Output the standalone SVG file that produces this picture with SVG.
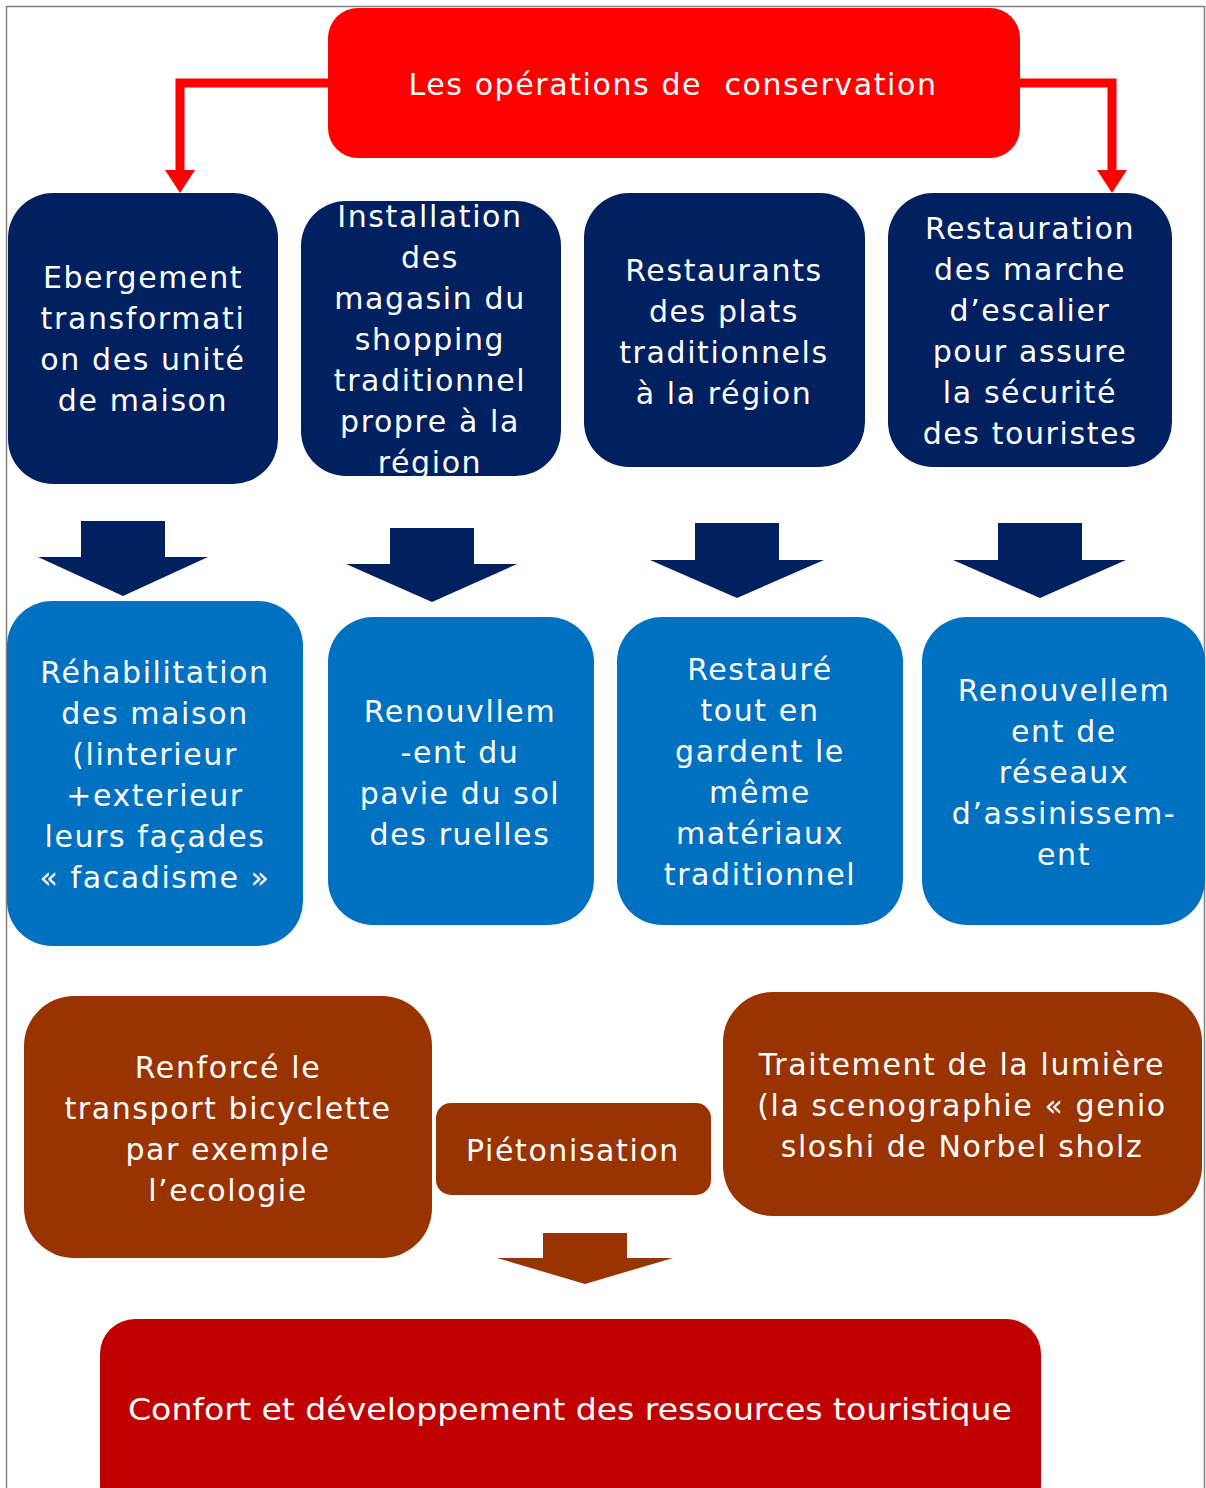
<svg xmlns="http://www.w3.org/2000/svg" width="1206" height="1488" viewBox="0 0 1206 1488">
<style>
text{font-family:"DejaVu Sans","Verdana",sans-serif;font-size:30px;fill:#fff;text-anchor:middle;letter-spacing:1.6px}
.navy{fill:#002060}
.blue{fill:#0070C0}
.brown{fill:#993300}
.red{fill:#FF0000}
.dred{fill:#C00000}
</style>
<rect x="6.5" y="6.5" width="1198" height="1495" fill="#fff" stroke="#808080" stroke-width="1.5"/>
<g id="connectors">
<polyline points="330,83 180,83 180,172" fill="none" stroke="#FF0000" stroke-width="9"/>
<polygon points="165,170 195,170 180,193" fill="#FF0000"/>
<polyline points="1018,83 1112,83 1112,172" fill="none" stroke="#FF0000" stroke-width="9"/>
<polygon points="1097,170 1127,170 1112,193" fill="#FF0000"/>
<polygon class="navy" points="81,521 165,521 165,557 208,557 123,596 38,557 81,557"/>
<polygon class="navy" points="390,528 474,528 474,564 517,564 432,602 346,564 390,564"/>
<polygon class="navy" points="695,523 779,523 779,560 824,560 737,598 650,560 695,560"/>
<polygon class="navy" points="998,523 1082,523 1082,560 1126,560 1040,598 953,560 998,560"/>
<polygon class="brown" points="543,1233 627,1233 627,1258 673,1258 585,1284 497,1258 543,1258"/>
</g>
<g id="top">
<rect class="red" x="328" y="8" width="692" height="150" rx="30"/>
<text x="673" y="95" xml:space="preserve">Les opérations de  conservation</text>
</g>
<g id="n1">
<rect class="navy" x="8" y="193" width="270" height="291" rx="45"/>
<text x="143" y="288">Ebergement</text>
<text x="143" y="329">transformati</text>
<text x="143" y="370">on des unité</text>
<text x="143" y="411">de maison</text>
</g>
<g id="n2">
<rect class="navy" x="301" y="201" width="260" height="275" rx="45"/>
<text x="430" y="227">Installation</text>
<text x="430" y="268">des</text>
<text x="430" y="309">magasin du</text>
<text x="430" y="350">shopping</text>
<text x="430" y="391">traditionnel</text>
<text x="430" y="432">propre à la</text>
<text x="430" y="473">région</text>
</g>
<g id="n3">
<rect class="navy" x="584" y="193" width="281" height="274" rx="45"/>
<text x="724" y="281">Restaurants</text>
<text x="724" y="322">des plats</text>
<text x="724" y="363">traditionnels</text>
<text x="724" y="404">à la région</text>
</g>
<g id="n4">
<rect class="navy" x="888" y="193" width="284" height="274" rx="45"/>
<text x="1030" y="239">Restauration</text>
<text x="1030" y="280">des marche</text>
<text x="1030" y="321">d’escalier</text>
<text x="1030" y="362">pour assure</text>
<text x="1030" y="403">la sécurité</text>
<text x="1030" y="444">des touristes</text>
</g>
<g id="b1">
<rect class="blue" x="7" y="601" width="296" height="345" rx="45"/>
<text x="155" y="683">Réhabilitation</text>
<text x="155" y="724">des maison</text>
<text x="155" y="765">(linterieur</text>
<text x="155" y="806">+exterieur</text>
<text x="155" y="847">leurs façades</text>
<text x="155" y="888">« facadisme »</text>
</g>
<g id="b2">
<rect class="blue" x="328" y="617" width="266" height="308" rx="45"/>
<text x="460" y="722">Renouvllem</text>
<text x="460" y="763">-ent du</text>
<text x="460" y="804">pavie du sol</text>
<text x="460" y="845">des ruelles</text>
</g>
<g id="b3">
<rect class="blue" x="617" y="617" width="286" height="308" rx="45"/>
<text x="760" y="680">Restauré</text>
<text x="760" y="721">tout en</text>
<text x="760" y="762">gardent le</text>
<text x="760" y="803">même</text>
<text x="760" y="844">matériaux</text>
<text x="760" y="885">traditionnel</text>
</g>
<g id="b4">
<rect class="blue" x="922" y="617" width="283" height="308" rx="45"/>
<text x="1064" y="701">Renouvellem</text>
<text x="1064" y="742">ent de</text>
<text x="1064" y="783">réseaux</text>
<text x="1064" y="824">d’assinissem-</text>
<text x="1064" y="865">ent</text>
</g>
<g id="c1">
<rect class="brown" x="24" y="996" width="408" height="262" rx="50"/>
<text x="228" y="1078">Renforcé le</text>
<text x="228" y="1119">transport bicyclette</text>
<text x="228" y="1160">par exemple</text>
<text x="228" y="1201">l’ecologie</text>
</g>
<g id="c2">
<rect class="brown" x="436" y="1103" width="275" height="92" rx="15"/>
<text x="573" y="1161">Piétonisation</text>
</g>
<g id="c3">
<rect class="brown" x="723" y="992" width="479" height="224" rx="50"/>
<text x="962" y="1075">Traitement de la lumière</text>
<text x="962" y="1116">(la scenographie « genio</text>
<text x="962" y="1157">sloshi de Norbel sholz</text>
</g>
<g id="bottom">
<rect class="dred" x="100" y="1319" width="941" height="200" rx="35"/>
<text x="570" y="1420" style="letter-spacing:0" textLength="884" lengthAdjust="spacingAndGlyphs">Confort et développement des ressources touristique</text>
</g>
</svg>
